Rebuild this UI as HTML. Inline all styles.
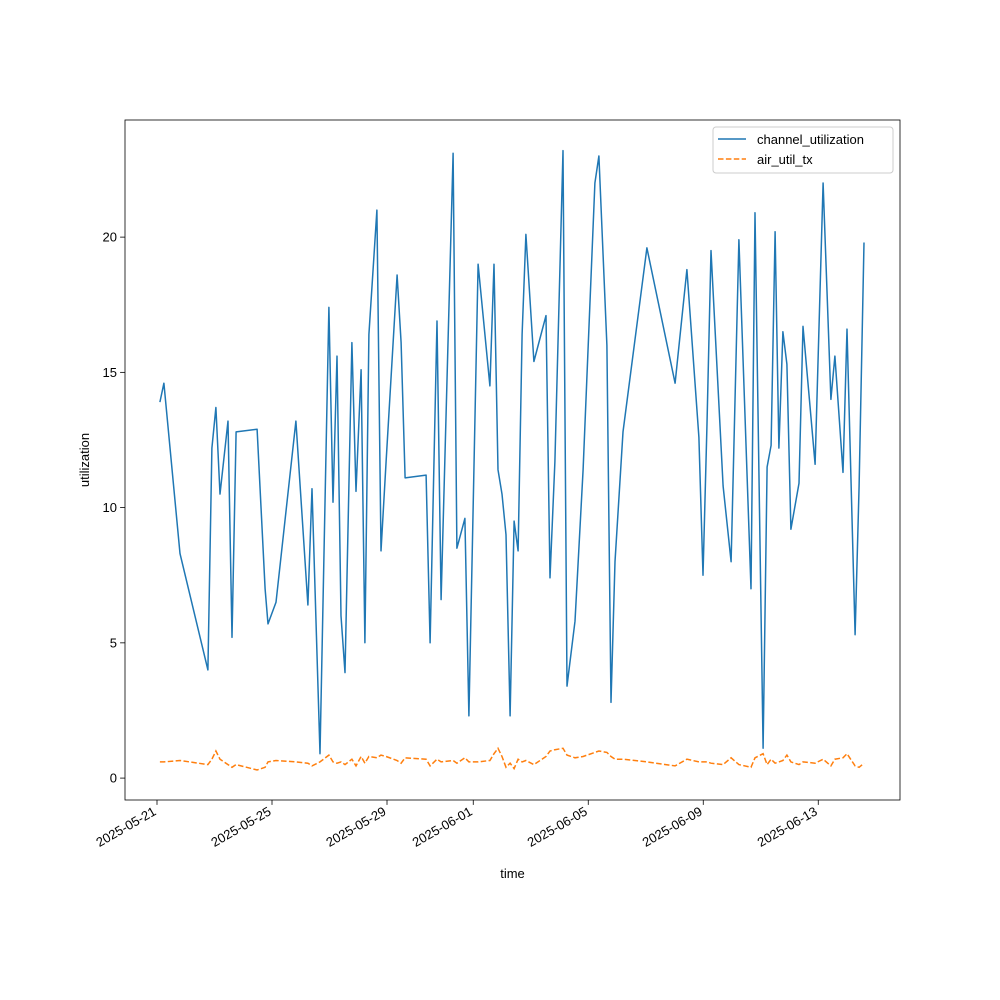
<!DOCTYPE html>
<html><head><meta charset="utf-8"><style>
html,body{margin:0;padding:0;background:#fff}
svg{display:block;font-family:"Liberation Sans","DejaVu Sans",sans-serif}
</style></head><body>
<svg id="chart" width="1000" height="1000" viewBox="0 0 1000 1000">
<rect x="0" y="0" width="1000" height="1000" fill="#fff"/>
<g id="plot"></g>
</svg>
<script>
const days=[0.10,0.24,0.80,1.77,1.91,2.05,2.19,2.47,2.61,2.75,3.48,3.76,3.86,4.14,4.83,5.25,5.39,5.67,5.98,6.12,6.26,6.40,6.54,6.78,6.92,7.10,7.23,7.37,7.65,7.79,7.97,8.35,8.49,8.63,9.36,9.50,9.74,9.88,10.30,10.43,10.71,10.85,11.17,11.58,11.72,11.86,12.00,12.14,12.28,12.42,12.56,12.70,12.83,13.11,13.53,13.67,13.84,14.12,14.26,14.54,14.82,15.23,15.37,15.65,15.79,15.93,16.21,17.04,18.02,18.43,18.85,18.99,19.13,19.27,19.69,19.97,20.24,20.66,20.80,21.08,21.22,21.36,21.50,21.63,21.77,21.91,22.05,22.33,22.47,22.89,23.17,23.44,23.58,23.86,24.00,24.28,24.42,24.59];
const channelUtil=[13.9,14.6,8.3,4.0,12.2,13.7,10.5,13.2,5.2,12.8,12.9,7.0,5.7,6.5,13.2,6.4,10.7,0.9,17.4,10.2,15.6,6.0,3.9,16.1,10.6,15.1,5.0,16.4,21.0,8.4,11.7,18.6,16.1,11.1,11.2,5.0,16.9,6.6,23.1,8.5,9.6,2.3,19.0,14.5,19.0,11.4,10.5,9.0,2.3,9.5,8.4,16.4,20.1,15.4,17.1,7.4,11.7,23.2,3.4,5.8,11.4,22.0,23.0,16.0,2.8,8.0,12.8,19.6,14.6,18.8,12.6,7.5,13.1,19.5,10.8,8.0,19.9,7.0,20.9,1.1,11.5,12.3,20.2,12.2,16.5,15.3,9.2,10.9,16.7,11.6,22.0,14.0,15.6,11.3,16.6,5.3,10.8,19.8];
const airUtilTx=[0.6,0.6,0.65,0.5,0.7,1.0,0.7,0.5,0.4,0.5,0.3,0.4,0.6,0.65,0.6,0.55,0.45,0.6,0.85,0.6,0.55,0.6,0.5,0.7,0.45,0.8,0.55,0.8,0.75,0.85,0.8,0.65,0.55,0.75,0.7,0.45,0.7,0.6,0.65,0.55,0.75,0.6,0.6,0.65,0.9,1.1,0.8,0.4,0.55,0.35,0.7,0.6,0.65,0.5,0.8,1.0,1.05,1.1,0.85,0.75,0.8,0.95,1.0,0.95,0.8,0.7,0.7,0.6,0.45,0.7,0.6,0.6,0.6,0.55,0.5,0.75,0.5,0.4,0.75,0.9,0.5,0.7,0.55,0.6,0.65,0.85,0.6,0.5,0.6,0.55,0.7,0.45,0.7,0.75,0.9,0.45,0.4,0.55];
const xTickDays=[0,4,8,11,15,19,23];
const xTickLabels=["2025-05-21","2025-05-25","2025-05-29","2025-06-01","2025-06-05","2025-06-09","2025-06-13"];
const yTicks=[0,5,10,15,20];

const L=125,R=900,T=120,B=800;
const xMin=-1.113,xMax=25.843,yMin=-0.81,yMax=24.33;
const xs=d=>L+(d-xMin)/(xMax-xMin)*(R-L);
const ys=v=>B-(v-yMin)/(yMax-yMin)*(B-T);
const NS="http://www.w3.org/2000/svg";
const g=document.getElementById('plot');
function mk(tag,attrs,parent){const e=document.createElementNS(NS,tag);for(const k in attrs)e.setAttribute(k,attrs[k]);(parent||g).appendChild(e);return e;}

const xAxis=mk('g',{});


xTickDays.forEach((d,i)=>{
  const x=xs(d);
  const t=mk('line',{x1:x,x2:x,y1:B,y2:B+4.9,stroke:'#000','stroke-width':0.8},xAxis);
  
  
  const lb=mk('text',{x:x,y:B+14,'font-size':13,'text-anchor':'end',transform:`rotate(-30 ${x} ${B+14})`},xAxis);
  lb.textContent=xTickLabels[i];
  
  
});
const yAxis=mk('g',{});


yTicks.forEach(v=>{
  const y=ys(v);
  const t=mk('line',{x1:L-4.9,x2:L,y1:y,y2:y,stroke:'#000','stroke-width':0.8},yAxis);
  
  
  const lb=mk('text',{x:L-8,y:y+4.5,'font-size':13,'text-anchor':'end'},yAxis);
  lb.textContent=v;
  
  
});

function path(vals){return vals.map((v,i)=>(i?'L':'M')+xs(days[i]).toFixed(1)+','+ys(v).toFixed(1)).join('');}
const s1=mk('path',{d:path(channelUtil),fill:'none',stroke:'#1f77b4','stroke-width':1.5,'stroke-linejoin':'round'});


const s2=mk('path',{d:path(airUtilTx),fill:'none',stroke:'#ff7f0e','stroke-width':1.5,'stroke-dasharray':'5.5,2.4'});



const frame=mk('rect',{x:L,y:T,width:R-L,height:B-T,fill:'none',stroke:'#000','stroke-width':0.8});



const xt=mk('text',{x:(L+R)/2,y:878,'font-size':13,'text-anchor':'middle'});
xt.textContent='time';


const yt=mk('text',{x:89,y:(T+B)/2,'font-size':13,'text-anchor':'middle',transform:`rotate(-90 89 ${(T+B)/2})`});
yt.textContent='utilization';



const lg=mk('g',{});


mk('rect',{x:713,y:127,width:180,height:46,rx:3,fill:'#fff',stroke:'#ccc','stroke-width':1},lg);
const e1=mk('g',{},lg);


mk('line',{x1:718,x2:746,y1:139,y2:139,stroke:'#1f77b4','stroke-width':1.5},e1);
mk('text',{x:757,y:144,'font-size':13},e1).textContent='channel_utilization';
const e2=mk('g',{},lg);


mk('line',{x1:718,x2:746,y1:159,y2:159,stroke:'#ff7f0e','stroke-width':1.5,'stroke-dasharray':'5.5,2.4'},e2);
mk('text',{x:757,y:164,'font-size':13},e2).textContent='air_util_tx';
</script>
</body></html>
